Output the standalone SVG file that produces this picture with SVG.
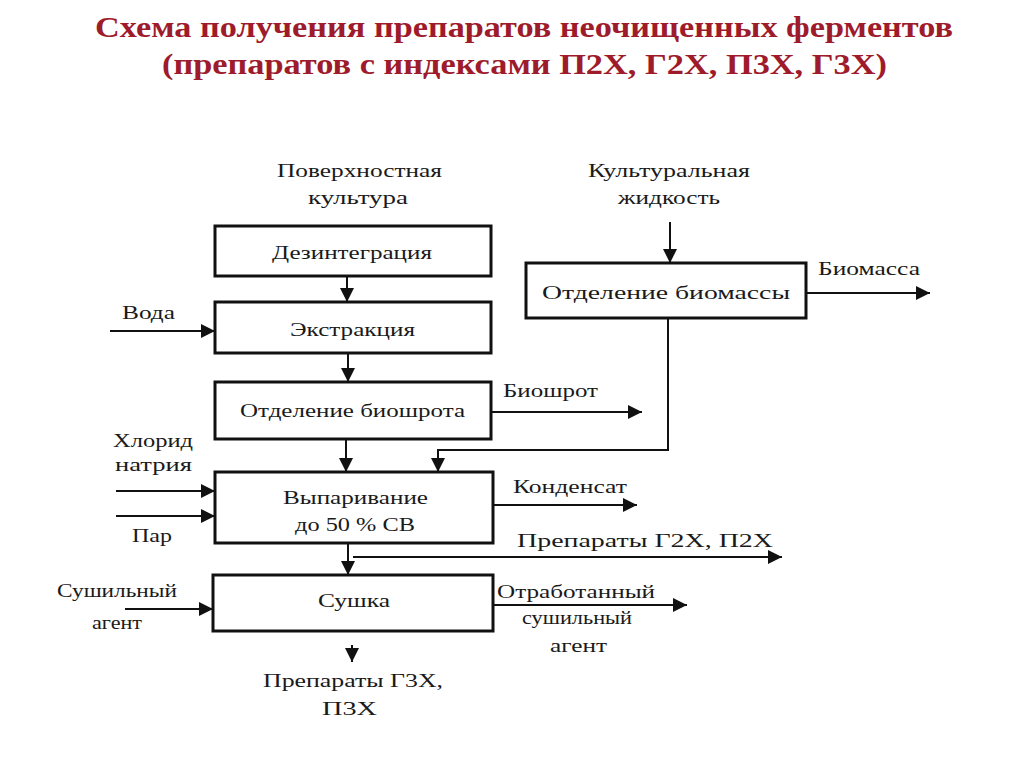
<svg xmlns="http://www.w3.org/2000/svg" width="1024" height="767" viewBox="0 0 1024 767">
<style>
.title{font-family:"Liberation Serif","Times New Roman",serif;font-weight:bold;font-size:30px;fill:#9e1b2b}
.lbl{font-family:"Liberation Serif","Times New Roman",serif;font-size:18px;fill:#1a1a1a}
.box{fill:#fff;stroke:#111;stroke-width:3}
.con{fill:none;stroke:#111;stroke-width:2;marker-end:url(#ah)}
.line{fill:none;stroke:#111;stroke-width:2}
</style>
<defs>
<marker id="ah" markerUnits="userSpaceOnUse" markerWidth="14" markerHeight="14" refX="14" refY="7" orient="auto">
<path d="M0,0 L14,7 L0,14 z" fill="#111"/>
</marker>
</defs>
<rect width="1024" height="767" fill="#fff"/>
<g id="title">
<text class="title" x="95" y="37" textLength="858" lengthAdjust="spacingAndGlyphs">Схема получения препаратов неочищенных ферментов</text>
<text class="title" x="162" y="74" textLength="725" lengthAdjust="spacingAndGlyphs">(препаратов с индексами П2Х, Г2Х, П3Х, Г3Х)</text>
</g>
<g id="connectors">
<path class="con" d="M347,276 V302"/>
<path class="con" d="M348,353 V382"/>
<path class="con" d="M346,439 V472"/>
<path class="con" d="M668,318 V450 H438 V472"/>
<path class="con" d="M670,222 V263"/>
<path class="con" d="M806,293 H930"/>
<path class="con" d="M491,412 H642"/>
<path class="con" d="M110,331 H215"/>
<path class="con" d="M116,491 H215"/>
<path class="con" d="M116,516 H215"/>
<path class="con" d="M493,505 H637"/>
<path class="con" d="M348,543 V575"/>
<path class="con" d="M353,557 H782"/>
<path class="con" d="M125,609 H213"/>
<path class="con" d="M493,605 H687"/>
<path class="con" d="M352,645 V662"/>
</g>
<g id="src-surface">
<text class="lbl" x="277" y="177" textLength="165" lengthAdjust="spacingAndGlyphs">Поверхностная</text>
<text class="lbl" x="308" y="204" textLength="100" lengthAdjust="spacingAndGlyphs">культура</text>
</g>
<g id="src-liquid">
<text class="lbl" x="588" y="177" textLength="162" lengthAdjust="spacingAndGlyphs">Культуральная</text>
<text class="lbl" x="618" y="204" textLength="102" lengthAdjust="spacingAndGlyphs">жидкость</text>
</g>
<g id="disintegration">
<rect class="box" x="215" y="226" width="276" height="50"/>
<text class="lbl" x="272" y="259" textLength="160" lengthAdjust="spacingAndGlyphs">Дезинтеграция</text>
</g>
<g id="extraction">
<rect class="box" x="215" y="302" width="276" height="51"/>
<text class="lbl" x="290" y="336" textLength="125" lengthAdjust="spacingAndGlyphs">Экстракция</text>
</g>
<g id="biosrot-sep">
<rect class="box" x="215" y="382" width="276" height="57"/>
<text class="lbl" x="240" y="417" textLength="225" lengthAdjust="spacingAndGlyphs">Отделение биошрота</text>
</g>
<g id="biomass-sep">
<rect class="box" x="526" y="263" width="280" height="55"/>
<text class="lbl" x="542" y="299" textLength="248" lengthAdjust="spacingAndGlyphs">Отделение биомассы</text>
</g>
<g id="evaporation">
<rect class="box" x="215" y="472" width="278" height="71"/>
<text class="lbl" x="283" y="504" textLength="145" lengthAdjust="spacingAndGlyphs">Выпаривание</text>
<text class="lbl" x="295" y="531" textLength="120" lengthAdjust="spacingAndGlyphs">до 50 % СВ</text>
</g>
<g id="drying">
<rect class="box" x="213" y="575" width="280" height="56"/>
<text class="lbl" x="318" y="607" textLength="72" lengthAdjust="spacingAndGlyphs">Сушка</text>
</g>
<g id="water"><text class="lbl" x="122" y="319" textLength="53" lengthAdjust="spacingAndGlyphs">Вода</text></g>
<g id="nacl">
<text class="lbl" x="113" y="447" textLength="80" lengthAdjust="spacingAndGlyphs">Хлорид</text>
<text class="lbl" x="115" y="471" textLength="77" lengthAdjust="spacingAndGlyphs">натрия</text>
</g>
<g id="steam"><text class="lbl" x="132" y="542" textLength="40" lengthAdjust="spacingAndGlyphs">Пар</text></g>
<g id="drying-agent">
<text class="lbl" x="57" y="597" textLength="120" lengthAdjust="spacingAndGlyphs">Сушильный</text>
<text class="lbl" x="92" y="629" textLength="50" lengthAdjust="spacingAndGlyphs">агент</text>
</g>
<g id="biomass"><text class="lbl" x="818" y="275" textLength="102" lengthAdjust="spacingAndGlyphs">Биомасса</text></g>
<g id="biosrot"><text class="lbl" x="503" y="397" textLength="95" lengthAdjust="spacingAndGlyphs">Биошрот</text></g>
<g id="condensate"><text class="lbl" x="513" y="493" textLength="114" lengthAdjust="spacingAndGlyphs">Конденсат</text></g>
<g id="prep-2x"><text class="lbl" x="517" y="547" textLength="256" lengthAdjust="spacingAndGlyphs">Препараты Г2Х, П2Х</text></g>
<g id="spent-agent">
<text class="lbl" x="497" y="598" textLength="158" lengthAdjust="spacingAndGlyphs">Отработанный</text>
<text class="lbl" x="522" y="624" textLength="110" lengthAdjust="spacingAndGlyphs">сушильный</text>
<text class="lbl" x="550" y="652" textLength="57" lengthAdjust="spacingAndGlyphs">агент</text>
</g>
<g id="prep-3x">
<text class="lbl" x="263" y="687" textLength="180" lengthAdjust="spacingAndGlyphs">Препараты Г3Х,</text>
<text class="lbl" x="322" y="715" textLength="55" lengthAdjust="spacingAndGlyphs">П3Х</text>
</g>
</svg>
